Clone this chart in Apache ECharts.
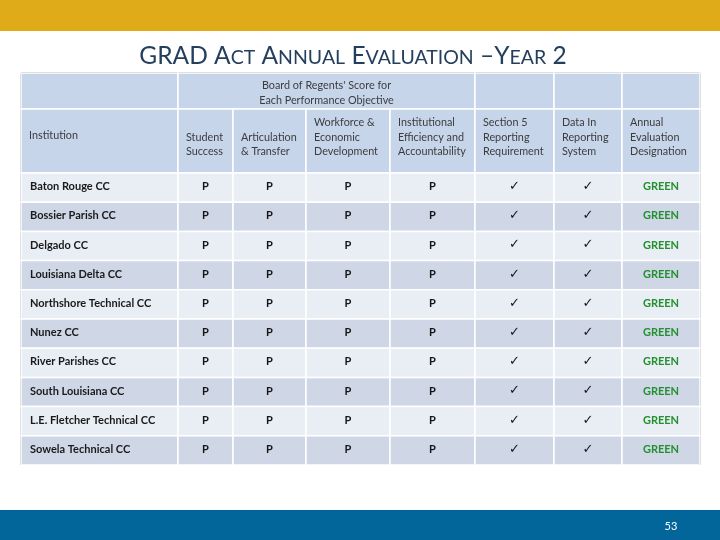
<!DOCTYPE html>
<html><head><meta charset="utf-8">
<script src="https://cdn.jsdelivr.net/npm/echarts@6/dist/echarts.min.js"></script>
<style>html,body{margin:0;padding:0;background:#fff}#c{width:720px;height:540px}</style>
</head><body><div id="c"></div>
<script>
// ---------- data ----------
const institutions = ['Baton Rouge CC','Bossier Parish CC','Delgado CC','Louisiana Delta CC','Northshore Technical CC','Nunez CC','River Parishes CC','South Louisiana CC','L.E. Fletcher Technical CC','Sowela Technical CC'];
const studentSuccess = ['P','P','P','P','P','P','P','P','P','P'];
const articulationTransfer = ['P','P','P','P','P','P','P','P','P','P'];
const workforceDevelopment = ['P','P','P','P','P','P','P','P','P','P'];
const efficiencyAccountability = ['P','P','P','P','P','P','P','P','P','P'];
const section5Reporting = ['✓','✓','✓','✓','✓','✓','✓','✓','✓','✓'];
const dataInReporting = ['✓','✓','✓','✓','✓','✓','✓','✓','✓','✓'];
const annualDesignation = ['GREEN','GREEN','GREEN','GREEN','GREEN','GREEN','GREEN','GREEN','GREEN','GREEN'];
const groupHeader = "Board of Regents' Score for\nEach Performance Objective";
const columnHeaders = ['Institution','Student\nSuccess','Articulation\n& Transfer','Workforce &\nEconomic\nDevelopment','Institutional\nEfficiency and\nAccountability','Section 5\nReporting\nRequirement','Data In\nReporting\nSystem','Annual\nEvaluation\nDesignation'];
const titleText = 'GRAD ACT ANNUAL EVALUATION –YEAR 2';
const pageNumber = '53';

// ---------- layout ----------
const colW = [157, 55, 73, 84, 85, 79, 68, 78];
const edges = colW.reduce((a, w) => { a.push(a[a.length - 1] + w); return a; }, [0]);
const total = edges[edges.length - 1];
const FONT = 'Lato, "Open Sans", sans-serif';
const C_HEAD = '#C6D5EA', C_LIGHT = '#E9EDF4', C_DARK = '#CFD7E7';

const bodyColumns = [institutions, studentSuccess, articulationTransfer, workforceDevelopment, efficiencyAccountability, section5Reporting, dataInReporting, annualDesignation];
const bodyCells = [];
institutions.forEach((_, r) => bodyColumns.forEach((col, c) => bodyCells.push({ c, r, text: col[r] })));

// header cells: row 0 (group row) and row 1 (column names)
const H_SPLIT = 36, H_TOTAL = 100;
const headerCells = [
  { c0: 0, c1: 1, y0: 0, y1: H_SPLIT, text: '' },
  { c0: 1, c1: 5, y0: 0, y1: H_SPLIT, text: groupHeader, center: true },
  { c0: 5, c1: 6, y0: 0, y1: H_SPLIT, text: '' },
  { c0: 6, c1: 7, y0: 0, y1: H_SPLIT, text: '' },
  { c0: 7, c1: 8, y0: 0, y1: H_SPLIT, text: '' }
];
columnHeaders.forEach((t, i) => headerCells.push({ c0: i, c1: i + 1, y0: H_SPLIT, y1: H_TOTAL, text: t }));

// small caps title as rich text
function smallCaps(s) {
  return s.split(' ').map(w => {
    if (w === 'GRAD' || w === '2') return '{b|' + w + '}';
    if (w.startsWith('–')) return '{b|' + w.slice(0, 2) + '}{s|' + w.slice(2) + '}';
    return '{b|' + w[0] + '}{s|' + w.slice(1) + '}';
  }).join('{b| }');
}

const chart = echarts.init(document.getElementById('c'), null, { renderer: 'canvas' });
chart.setOption({
  animation: false,
  backgroundColor: '#fff',
  grid: [
    { left: 21, top: 73, width: 679, height: 100 },
    { left: 21, top: 173, width: 679, height: 292 }
  ],
  xAxis: [
    { gridIndex: 0, type: 'value', min: 0, max: total, show: false },
    { gridIndex: 1, type: 'value', min: 0, max: total, show: false }
  ],
  yAxis: [
    { gridIndex: 0, type: 'value', min: 0, max: H_TOTAL, inverse: true, show: false },
    { gridIndex: 1, type: 'category', data: institutions, inverse: true, show: false }
  ],
  series: [
    {
      type: 'custom', xAxisIndex: 0, yAxisIndex: 0, clip: false,
      data: headerCells.map(h => [edges[h.c0], h.y0]),
      encode: { x: 0, y: 1 },
      renderItem(params, api) {
        const h = headerCells[params.dataIndex];
        const p0 = api.coord([edges[h.c0], h.y0]);
        const p1 = api.coord([edges[h.c1], h.y1]);
        const children = [{
          type: 'rect',
          shape: { x: p0[0], y: p0[1], width: p1[0] - p0[0], height: p1[1] - p0[1] },
          style: { fill: C_HEAD, stroke: '#fff', lineWidth: 1.5 }
        }];
        if (h.text) {
          const lines = h.text.split('\n').length;
          let ty, va = 'middle';
          if (h.center) ty = (p0[1] + p1[1]) / 2 + 2;
          else if (lines === 1) ty = p0[1] + 27;
          else { ty = p1[1] - 14; va = 'bottom'; }
          children.push({
            type: 'text',
            style: {
              text: h.text, x: h.center ? (p0[0] + p1[0]) / 2 : p0[0] + 8, y: ty,
              align: h.center ? 'center' : 'left', verticalAlign: va,
              fontFamily: FONT, fontSize: 10.8, lineHeight: 14.5, fill: '#3c3c3c'
            }
          });
        }
        return { type: 'group', children };
      }
    },
    {
      type: 'custom', xAxisIndex: 1, yAxisIndex: 1, clip: false,
      data: bodyCells.map(b => [edges[b.c], b.r]),
      encode: { x: 0, y: 1 },
      renderItem(params, api) {
        const b = bodyCells[params.dataIndex];
        const p0 = api.coord([edges[b.c], b.r]);
        const p1 = api.coord([edges[b.c + 1], b.r]);
        const bh = api.size([0, 1])[1];
        const y0 = p0[1] - bh / 2;
        let st = { fontFamily: FONT, fontSize: 11, fontWeight: 'bold', fill: '#151515' };
        if (b.c === 0) st = { fontFamily: FONT, fontSize: 11, fontWeight: 'bold', fill: '#1a1a1a' };
        else if (b.c === 5 || b.c === 6) st = { fontFamily: '"DejaVu Sans", sans-serif', fontSize: 13, fontWeight: 'bold', fill: '#151515' };
        else if (b.c === 7) st = { fontFamily: FONT, fontSize: 11, fontWeight: 'bold', fill: '#23902F' };
        return {
          type: 'group', children: [
            { type: 'rect', shape: { x: p0[0], y: y0, width: p1[0] - p0[0], height: bh },
              style: { fill: b.r % 2 ? C_DARK : C_LIGHT, stroke: '#fff', lineWidth: 1.5 } },
            { type: 'text', style: Object.assign({
                text: b.text,
                x: b.c === 0 ? p0[0] + 9 : (p0[0] + p1[0]) / 2,
                y: p0[1] - 1,
                align: b.c === 0 ? 'left' : 'center', verticalAlign: 'middle'
              }, st) }
          ]
        };
      }
    }
  ],
  graphic: [
    { type: 'rect', shape: { x: 0, y: 0, width: 720, height: 31 }, style: { fill: '#DFAB19' } },
    { type: 'rect', shape: { x: 0, y: 510, width: 720, height: 30 }, style: { fill: '#03669A' } },
    { type: 'text', x: 353, y: 55, style: {
        text: smallCaps(titleText), align: 'center', verticalAlign: 'middle', fill: '#243F5E',
        rich: {
          b: { fontFamily: FONT, fontSize: 24.5, fill: '#243F5E', verticalAlign: 'bottom', lineHeight: 28 },
          s: { fontFamily: FONT, fontSize: 19.5, fill: '#243F5E', verticalAlign: 'bottom', lineHeight: 28, padding: [0, 0, 1, 0] }
        }
      } },
    { type: 'text', x: 671, y: 526, style: { text: pageNumber, align: 'center', verticalAlign: 'middle', fill: '#fff', fontFamily: FONT, fontSize: 11 } },
    { type: 'polyline', shape: { points: [[21, 465], [21, 73], [700, 73], [700, 465]] }, style: { stroke: '#000', lineWidth: 1, fill: null } }
  ]
});
</script></body></html>
